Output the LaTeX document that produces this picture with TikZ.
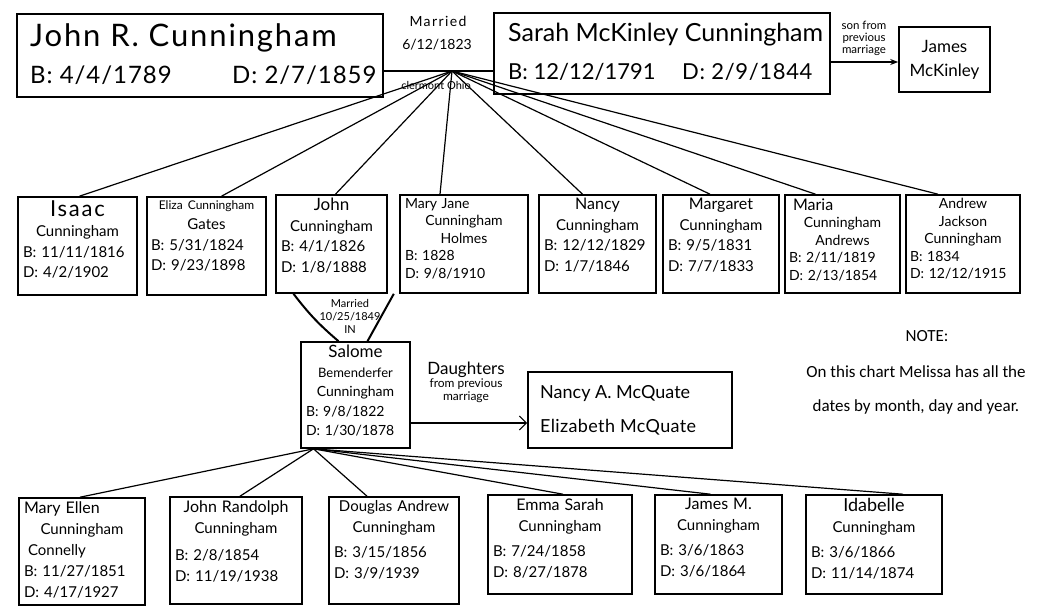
\documentclass[tikz,border=0pt]{standalone}
\usepackage{fontspec}
\setmainfont{Lato}
\newfontfamily\notefont{Carlito}
\usetikzlibrary{arrows.meta}
\newcommand\dl[1]{\makebox[\linewidth][l]{#1}}
\newcommand\nm[1]{\makebox[\linewidth][c]{#1}}
\newcommand\fs[2]{\fontsize{#1}{#2}\selectfont}
% #1 name, #2 x, #3 y, #4 w, #5 h, #6 text width, #7 font, #8 content
\newcommand\famcard[8]{%
  \node[pbox, minimum width=#4pt, minimum height=#5pt] (#1) at (#2,#3) {};
  \node[ptext, text width=#6pt, anchor=north, font=#7] (#1-t) at ([yshift=-4pt]#1.north) {#8};}
\tikzset{
  pbox/.style={draw, line width=1.6pt, inner sep=0pt},
  ptext/.style={inner sep=0pt, align=left},
  link/.style={line width=1.2pt},
  lab/.style={inner sep=0pt, align=center},
}
\begin{document}
\begin{tikzpicture}[x=1pt,y=-1pt]
\useasboundingbox[fill=white] (0,0) rectangle (1059,608);
% ---- top generation
\node[pbox, minimum width=366pt, minimum height=83pt] (jrc) at (200,55.5) {};
\node[lab, anchor=base west, font=\fs{31}{32}\addfontfeature{LetterSpace=6}] (jrc-n) at (30,46) {John R. Cunningham};
\node[lab, anchor=base west, font=\fs{24}{26}\addfontfeature{LetterSpace=4}] (jrc-b) at (30,83) {B: 4/4/1789};
\node[lab, anchor=base west, font=\fs{24}{26}\addfontfeature{LetterSpace=4}] (jrc-d) at (232,83) {D: 2/7/1859};
\node[pbox, minimum width=336pt, minimum height=81pt] (sarah) at (662,53.5) {};
\node[lab, anchor=base west, font=\fs{25}{26}] (sarah-n) at (508,41) {Sarah McKinley Cunningham};
\node[lab, anchor=base west, font=\fs{22}{24}] (sarah-b) at (508,79) {B: 12/12/1791};
\node[lab, anchor=base west, font=\fs{22}{24}\addfontfeature{LetterSpace=3}] (sarah-d) at (682,79) {D: 2/9/1844};
\node[lab, anchor=base, font=\fs{14}{15}\addfontfeature{LetterSpace=10}] (mar1) at (438,26) {Married};
\node[lab, anchor=base, font=\fs{14}{15}] (mar2) at (437,49) {6/12/1823};
\node[lab, anchor=base, font=\fs{11}{12}] (mar3) at (436,89) {clermont Ohio};
\coordinate (m) at (452,71);
\draw[link] (jrc.east |- m) -- (sarah.west |- m);
\node[pbox, minimum width=91pt, minimum height=65pt] (james) at (944.5,59.5) {};
\node[lab, font=\fs{17}{24}] (james-t) at (james) {James\\McKinley};
\coordinate (sonarrow) at (0,62);
\draw[link, line width=1.8pt, -{Stealth[length=8pt]}] (sarah.east |- sonarrow) -- (james.west |- sonarrow);
\node[lab, font=\fs{11.5}{12}] (sonlab) at (864,38) {son from\\previous\\marriage};
% ---- children
\famcard{isaac}{77.5}{246}{119}{98}{109}{\fs{15}{20.5}}{\nm{\fs{22}{20}\addfontfeature{LetterSpace=8}Isaac}\\\nm{Cunningham}\\\dl{B: 11/11/1816}\\\dl{D: 4/2/1902}}
\famcard{eliza}{206.5}{246}{119}{98}{111}{\fs{15}{20.5}}{\nm{\fs{12}{12}Eliza Cunningham}\\\nm{Gates}\\\dl{B: 5/31/1824}\\\dl{D: 9/23/1898}}
\famcard{john}{331.5}{244}{111}{98}{101}{\fs{15}{20.5}}{\nm{\fs{17}{20}John}\\\nm{Cunningham}\\\dl{B: 4/1/1826}\\\dl{D: 1/8/1888}}
\famcard{mary}{464}{244}{128}{98}{118}{\fs{14}{17.5}}{\dl{Mary Jane}\\\nm{Cunningham}\\\nm{Holmes}\\\dl{B: 1828}\\\dl{D: 9/8/1910}}
\famcard{nancy}{597.5}{244}{117}{98}{107}{\fs{15}{20.5}}{\nm{\fs{16}{20}Nancy}\\\nm{Cunningham}\\\dl{B: 12/12/1829}\\\dl{D: 1/7/1846}}
\famcard{marg}{721}{244}{116}{98}{106}{\fs{15}{20.5}}{\nm{\fs{16}{20}Margaret}\\\nm{Cunningham}\\\dl{B: 9/5/1831}\\\dl{D: 7/7/1833}}
\famcard{maria}{842.5}{244}{115}{98}{107}{\fs{14}{17.5}}{\dl{\hspace{4pt}\fs{16}{17.5}Maria}\\\nm{Cunningham}\\\nm{Andrews}\\\dl{B: 2/11/1819}\\\dl{D: 2/13/1854}}
\famcard{andrew}{963}{244}{114}{98}{106}{\fs{14}{17.5}}{\nm{Andrew}\\\nm{Jackson}\\\nm{Cunningham}\\\dl{B: 1834}\\\dl{D: 12/12/1915}}
\draw[link] (m) -- ([xshift=2pt]isaac.north);
\draw[link] (m) -- ([xshift=15pt]eliza.north);
\draw[link] (m) -- ([xshift=4pt]john.north);
\draw[link] (m) -- ([xshift=-24pt]mary.north);
\draw[link] (m) -- ([xshift=-15pt]nancy.north);
\draw[link] (m) -- ([xshift=-11pt]marg.north);
\draw[link] (m) -- ([xshift=-27pt]maria.north);
\draw[link] (m) -- ([xshift=-25pt]andrew.north);
% ---- John's marriage
\famcard{salome}{355.5}{395}{109}{106}{99}{\fs{14}{19.5}}{\nm{\fs{17}{19.5}Salome}\\\nm{\fs{13}{19.5}Bemenderfer}\\\nm{Cunningham}\\\dl{B: 9/8/1822}\\\dl{D: 1/30/1878}}
\draw[link, line width=2pt] ([xshift=-38pt]john.south) to[bend right=6] ([xshift=-17pt]salome.north);
\draw[link, line width=2pt] ([xshift=6pt]john.south east) -- ([xshift=12pt]salome.north);
\node[lab, font=\fs{11}{13}] (mar4) at (350,316) {Married\\10/25/1849\\IN};
\node[pbox, minimum width=204pt, minimum height=76pt] (mcq) at (630,410) {};
\node[lab, anchor=base west, font=\fs{18}{20}] (mcq-a) at (540,398) {Nancy A. McQuate};
\node[lab, anchor=base west, font=\fs{18}{20}\addfontfeature{LetterSpace=2}] (mcq-b) at (540,432) {Elizabeth McQuate};
\coordinate (darrow) at (0,423);
\draw[link, -{Straight Barb[length=7pt]}] (salome.east |- darrow) -- (mcq.west |- darrow);
\node[lab, font=\fs{12}{13}] (dlab) at (466,382) {{\fs{17}{18}Daughters}\\from previous\\marriage};
% ---- grandchildren
\famcard{mellen}{82}{551.5}{126}{107}{116}{\fs{15}{21}}{\dl{\fs{16}{21}Mary Ellen}\\\nm{Cunningham}\\\dl{\hspace{4pt}Connelly}\\\dl{B: 11/27/1851}\\\dl{D: 4/17/1927}}
\famcard{jrand}{236}{550.5}{132}{107}{122}{\fs{15}{21}}{\nm{\fs{16}{21}John Randolph}\\\nm{Cunningham}\\[6pt]\dl{B: 2/8/1854}\\\dl{D: 11/19/1938}}
\famcard{doug}{394}{550.5}{130}{107}{120}{\fs{15}{21}}{\nm{Douglas Andrew}\\\nm{Cunningham}\\[4pt]\dl{B: 3/15/1856}\\\dl{D: 3/9/1939}}
\famcard{emma}{560}{544.5}{144}{99}{134}{\fs{15}{21}}{\nm{\fs{16}{21}Emma Sarah}\\\nm{Cunningham}\\[4pt]\dl{B: 7/24/1858}\\\dl{D: 8/27/1878}}
\famcard{jamesm}{718.5}{544.5}{127}{99}{117}{\fs{15}{21}}{\nm{\fs{16}{21}James M.}\\\nm{Cunningham}\\[4pt]\dl{B: 3/6/1863}\\\dl{D: 3/6/1864}}
\famcard{ida}{874}{544.5}{136}{99}{126}{\fs{15}{21}}{\nm{\fs{18}{21}Idabelle}\\\nm{Cunningham}\\[4pt]\dl{B: 3/6/1866}\\\dl{D: 11/14/1874}}
\coordinate (h2) at ([xshift=-42pt]salome.south);
\draw[link] (h2) -- ([xshift=-2pt]mellen.north);
\draw[link] (h2) -- ([xshift=4pt]jrand.north);
\draw[link] (h2) -- ([xshift=-27pt]doug.north);
\draw[link] (h2) -- ([xshift=3pt]emma.north);
\draw[link] (h2) -- ([xshift=-8pt]jamesm.north);
\draw[link] (h2) -- ([xshift=29pt]ida.north);
% ---- note
\node[lab, font=\notefont\fs{17}{20}] (note1) at (927,336) {NOTE:};
\node[lab, font=\notefont\fs{17}{20}] (note2) at (916,372) {On this chart Melissa has all the};
\node[lab, font=\notefont\fs{17}{20}] (note3) at (916,407) {dates by month, day and year.};
\end{tikzpicture}
\end{document}
